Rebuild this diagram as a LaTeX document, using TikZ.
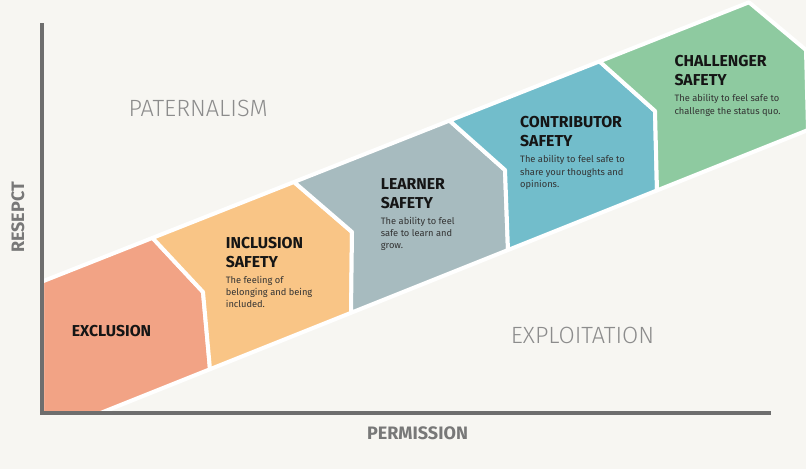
\documentclass[tikz,border=0pt]{standalone}
\usepackage{fontspec}
\setmainfont{Fira Sans}
\newfontfamily\cienki{Fira Sans Light}
\definecolor{tlo}{HTML}{F7F6F2}
\definecolor{osie}{HTML}{6E6E6E}
\definecolor{szary}{HTML}{787878}
\definecolor{jasny}{HTML}{8C8C8C}
\definecolor{ciemny}{HTML}{151515}
\definecolor{opisy}{HTML}{333333}
\definecolor{losos}{HTML}{F2A385}
\definecolor{pomarancz}{HTML}{F9C586}
\definecolor{popiel}{HTML}{A7BBBF}
\definecolor{turkus}{HTML}{72BDCB}
\definecolor{zielen}{HTML}{8ECAA0}
\begin{document}
\begin{tikzpicture}[x=1pt, y=-1pt,
    strefa/.style={fill=#1, draw=white, line width=4pt, line join=round},
    tytul/.style={anchor=base west, inner sep=0pt, align=left, text=ciemny,
        font=\fontsize{15.8}{19}\selectfont\bfseries},
    opis/.style={anchor=base west, inner sep=0pt, align=left, text=opisy,
        font=\fontsize{9.3}{12.3}\selectfont},
    os/.style={inner sep=0pt, text=szary, font=\fontsize{18}{20}\selectfont\bfseries},
    obszar/.style={anchor=base west, inner sep=0pt, text=jasny,
        font=\fontsize{23.5}{26}\selectfont\cienki}]
        \useasboundingbox (0,0) rectangle (806,469);
        \fill[tlo] (0,0) rectangle (806,469);

        % Granice stref (gora, wciecie, dol)
        \coordinate (A0) at (42,281.6);
        \coordinate (B0) at (42,413);
        \coordinate (C0) at (100.5,413);
        \coordinate (T1) at (152.5,237.9);
        \coordinate (N1) at (203,292);
        \coordinate (B1) at (210,369.2);
        \coordinate (T2) at (294,182);
        \coordinate (N2) at (352,232);
        \coordinate (B2) at (351,312.8);
        \coordinate (T3) at (449.5,120.6);
        \coordinate (N3) at (505,170);
        \coordinate (B3) at (508,250);
        \coordinate (T4) at (599.5,61.4);
        \coordinate (N4) at (655,111);
        \coordinate (B4) at (657,190.4);
        \coordinate (T5) at (749,2.3);
        \coordinate (N5) at (806,50);
        \coordinate (B5) at (808,130);

        % Strefy
        \filldraw[strefa=losos] (A0) -- (T1) -- (N1) -- (B1) -- (C0) -- (B0) -- cycle;
        \filldraw[strefa=pomarancz] (T1) -- (T2) -- (N2) -- (B2) -- (B1) -- (N1) -- cycle;
        \filldraw[strefa=popiel] (T2) -- (T3) -- (N3) -- (B3) -- (B2) -- (N2) -- cycle;
        \filldraw[strefa=turkus] (T3) -- (T4) -- (N4) -- (B4) -- (B3) -- (N3) -- cycle;
        \filldraw[strefa=zielen] (T4) -- (T5) -- (N5) -- (B5) -- (B4) -- (N4) -- cycle;

        % Osie
        \coordinate (O) at (42,413);
        \coordinate (Y) at (42,23);
        \coordinate (X) at (771,413);
        \draw[osie, line width=4pt] (Y) -- (O) -- (X);
        \node[os, rotate=90] (szacunek) at (18,217.5) {RESEPCT};
        \node[os] (swoboda) at (417.5,433) {PERMISSION};
        \node[obszar] (pater) at (128.3,116) {PATERNALISM};
        \node[obszar] (wyzysk) at (510.7,343.3) {EXPLOITATION};

        % Opisy stref (kotwica na ostatniej linii)
        \node[tytul] (wyklucz) at (71.7,336.7) {EXCLUSION};
        \node[tytul] (wlacz) at (225.7,267.3) {INCLUSION\\SAFETY};
        \node[opis] (wlacz-op) at (225.7,307.9) {The feeling of\\belonging and being\\included.};
        \node[tytul] (nauka) at (380.7,208) {LEARNER\\SAFETY};
        \node[opis] (nauka-op) at (380.7,248.9) {The ability to feel\\safe to learn and\\grow.};
        \node[tytul] (wklad) at (520,146.3) {CONTRIBUTOR\\SAFETY};
        \node[opis] (wklad-op) at (520,187.3) {The ability to feel safe to\\share your thoughts and\\opinions.};
        \node[tytul] (wyzwanie) at (674.3,85.7) {CHALLENGER\\SAFETY};
        \node[opis] (wyzwanie-op) at (674.3,114) {The ability to feel safe to\\challenge the status quo.};
    \end{tikzpicture}
\end{document}
